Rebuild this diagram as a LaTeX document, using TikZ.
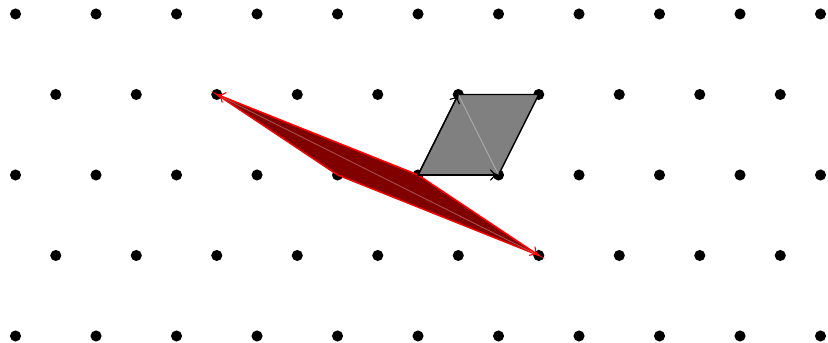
\documentclass[tikz,border=0pt]{standalone}
\usetikzlibrary{arrows.meta}
\begin{document}
\begin{tikzpicture}[x=1cm,y=1cm,
  latdot/.style={fill=black},
  redcell/.style={draw=red, line width=0.5pt, fill={rgb,255:red,128;green,0;blue,0}},
  graycell/.style={draw=black, line width=0.5pt, fill={rgb,255:red,128;green,128;blue,128}},
  diag/.style={draw=white, draw opacity=0.35, line width=0.3pt},
  redvec/.style={draw=red, line width=0.4pt, -{To[length=3pt,width=4pt]}},
  grayvec/.style={draw=black, line width=0.4pt, -{To[length=3pt,width=4pt]}}]
\useasboundingbox (-5.193,-2.087) rectangle (5.093,2.174);
% lattice
\foreach \yy in {-2,0,2} {\foreach \xx in {-5,...,5} {\fill[latdot] (\xx,\yy) circle (0.069);}}
\foreach \yy in {-1,1} {\foreach \xx in {-4.5,-3.5,...,4.5} {\fill[latdot] (\xx,\yy) circle (0.069);}}
% vertices
\coordinate (O) at (0,0);
\coordinate (B1) at (-2.5,1);
\coordinate (B2) at (1.5,-1);
\coordinate (B12) at (-1,0);
\coordinate (G1) at (0.5,1);
\coordinate (G2) at (1,0);
\coordinate (G12) at (1.5,1);
% red cell
\filldraw[redcell] (O) -- (B1) -- (B12) -- (B2) -- cycle;
\draw[diag] (B1) -- (B2);
\draw[redvec] (O) -- (B1);
\draw[redvec] (O) -- (B2);
% gray cell
\filldraw[graycell] (O) -- (G1) -- (G12) -- (G2) -- cycle;
\draw[diag] (G1) -- (G2);
\draw[grayvec] (O) -- (G1);
\draw[grayvec] (O) -- (G2);
\end{tikzpicture}
\end{document}
